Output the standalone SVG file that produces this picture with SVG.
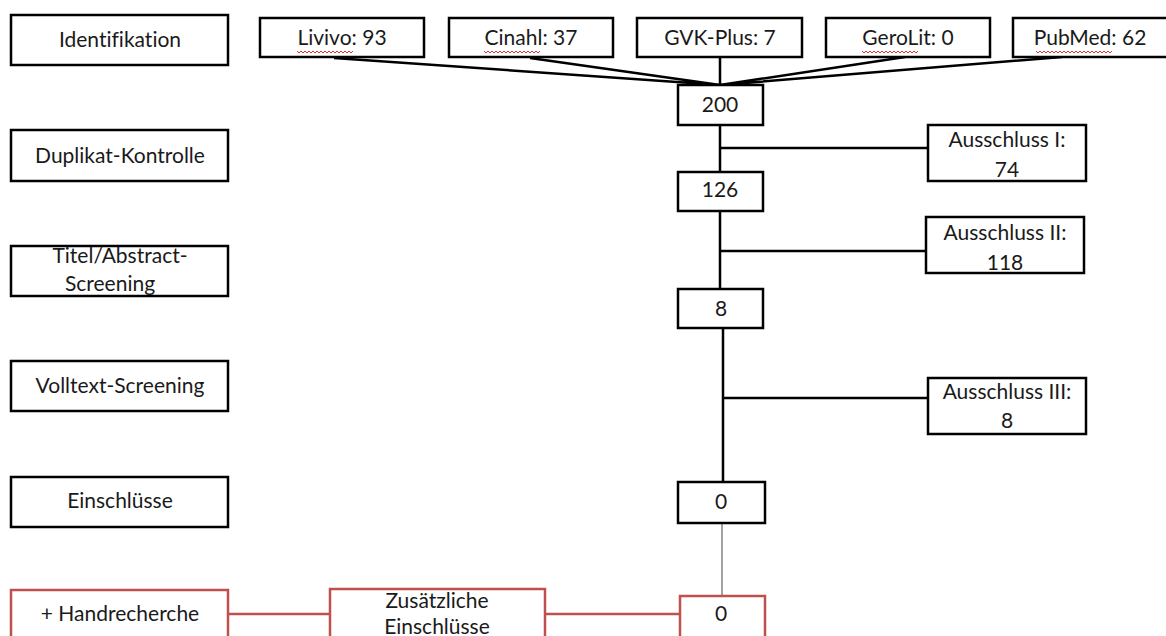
<svg xmlns="http://www.w3.org/2000/svg" width="1166" height="636" viewBox="0 0 1166 636">
<defs>
<style>
.b{fill:#fff;stroke:#000;stroke-width:2.5}
.r{fill:#fff;stroke:#C0504D;stroke-width:2.5}
text{font-family:Lato,"Open Sans","Liberation Sans",sans-serif;font-size:21px;fill:#1a1a1a;text-anchor:middle;font-variant-ligatures:none;font-feature-settings:"liga" 0}
.c{stroke:#000;stroke-width:2.5;fill:none}
.cr{stroke:#C0504D;stroke-width:2.5;fill:none}
.sq{stroke:#e03030;stroke-width:1;fill:none}
</style>
<path id="wave" d="M0 0 l2 2 l2 -2 l2 2 l2 -2 l2 2 l2 -2 l2 2 l2 -2 l2 2 l2 -2 l2 2 l2 -2 l2 2 l2 -2 l2 2 l2 -2 l2 2 l2 -2 l2 2 l2 -2 l2 2 l2 -2 l2 2 l2 -2 l2 2 l2 -2 l2 2 l2 -2"/>
<path id="wave2" d="M0 0 l2 2 l2 -2 l2 2 l2 -2 l2 2 l2 -2 l2 2 l2 -2 l2 2 l2 -2 l2 2 l2 -2 l2 2 l2 -2 l2 2 l2 -2 l2 2 l2 -2 l2 2 l2 -2 l2 2 l2 -2 l2 2 l2 -2 l2 2 l2 -2 l2 2 l2 -2 l2 2 l2 -2 l2 2 l2 -2 l2 2 l2 -2 l2 2 l2 -2 l2 2 l2 -2"/>
</defs>
<rect width="1166" height="636" fill="#fff"/>
<g id="connectors">
<path class="c" d="M334 58 L720 85 M530 58 L720 85 M720 57 L720 85 M905 57 L720 85 M1062 57 L720 85"/>
<path class="c" d="M720 125 L720 172 M720 148 L928 148"/>
<path class="c" d="M720 211 L720 289 M720 251 L926 251"/>
<path class="c" d="M723 328 L723 482 M723 398 L928 398"/>
<path d="M722 523 L722 596" stroke="#666" stroke-width="1.2" fill="none"/>
<path class="cr" d="M228 614 L330 614 M545 614 L680 614"/>
</g>
<g id="n-identifikation"><rect class="b" x="11" y="15" width="217" height="50"/><text x="120" y="47">Identifikation</text></g>
<g id="n-duplikat"><rect class="b" x="11" y="130" width="217" height="51"/><text x="120" y="163">Duplikat-Kontrolle</text></g>
<g id="n-titel"><rect class="b" x="11" y="246" width="217" height="50"/><text x="120" y="263">Titel/Abstract-</text><text x="110" y="291">Screening</text></g>
<g id="n-volltext"><rect class="b" x="11" y="361" width="217" height="50"/><text x="120" y="393">Volltext-Screening</text></g>
<g id="n-einschluesse"><rect class="b" x="11" y="477" width="217" height="50"/><text x="120" y="508">Einschlüsse</text></g>
<g id="n-hand"><rect class="r" x="11" y="590" width="217" height="50"/><text x="120" y="621">+ Handrecherche</text></g>
<g id="n-livivo"><rect class="b" x="260" y="18" width="164" height="39"/><text x="342" y="45">Livivo: 93</text><use href="#wave" x="297" y="51" class="sq"/></g>
<g id="n-cinahl"><rect class="b" x="449" y="18" width="164" height="39"/><text x="531" y="45">Cinahl: 37</text><use href="#wave" x="484" y="51" class="sq"/></g>
<g id="n-gvk"><rect class="b" x="637" y="18" width="165" height="39"/><text x="720" y="45">GVK-Plus: 7</text></g>
<g id="n-gerolit"><rect class="b" x="826" y="18" width="164" height="39"/><text x="908" y="45">GeroLit: 0</text><use href="#wave" x="862" y="51" class="sq"/></g>
<g id="n-pubmed"><rect class="b" x="1013" y="18" width="160" height="39"/><text x="1090" y="45">PubMed: 62</text><use href="#wave2" x="1036" y="51" class="sq"/></g>
<g id="n-200"><rect class="b" x="678" y="85" width="85" height="40"/><text x="720" y="112">200</text></g>
<g id="n-126"><rect class="b" x="678" y="172" width="85" height="39"/><text x="720" y="197">126</text></g>
<g id="n-8"><rect class="b" x="678" y="289" width="85" height="39"/><text x="721" y="316">8</text></g>
<g id="n-0"><rect class="b" x="678" y="482" width="87" height="41"/><text x="721" y="509">0</text></g>
<g id="n-0b"><rect class="r" x="680" y="596" width="85" height="44"/><text x="721" y="621">0</text></g>
<g id="n-aus1"><rect class="b" x="928" y="125" width="158" height="56"/><text x="1007" y="147">Ausschluss I:</text><text x="1007" y="177">74</text></g>
<g id="n-aus2"><rect class="b" x="926" y="217" width="158" height="56"/><text x="1005" y="240">Ausschluss II:</text><text x="1005" y="270">118</text></g>
<g id="n-aus3"><rect class="b" x="928" y="378" width="158" height="56"/><text x="1007" y="399">Ausschluss III:</text><text x="1007" y="428">8</text></g>
<g id="n-zus"><rect class="r" x="330" y="589" width="215" height="50"/><text x="437" y="608">Zusätzliche</text><text x="437" y="634">Einschlüsse</text></g>
</svg>
